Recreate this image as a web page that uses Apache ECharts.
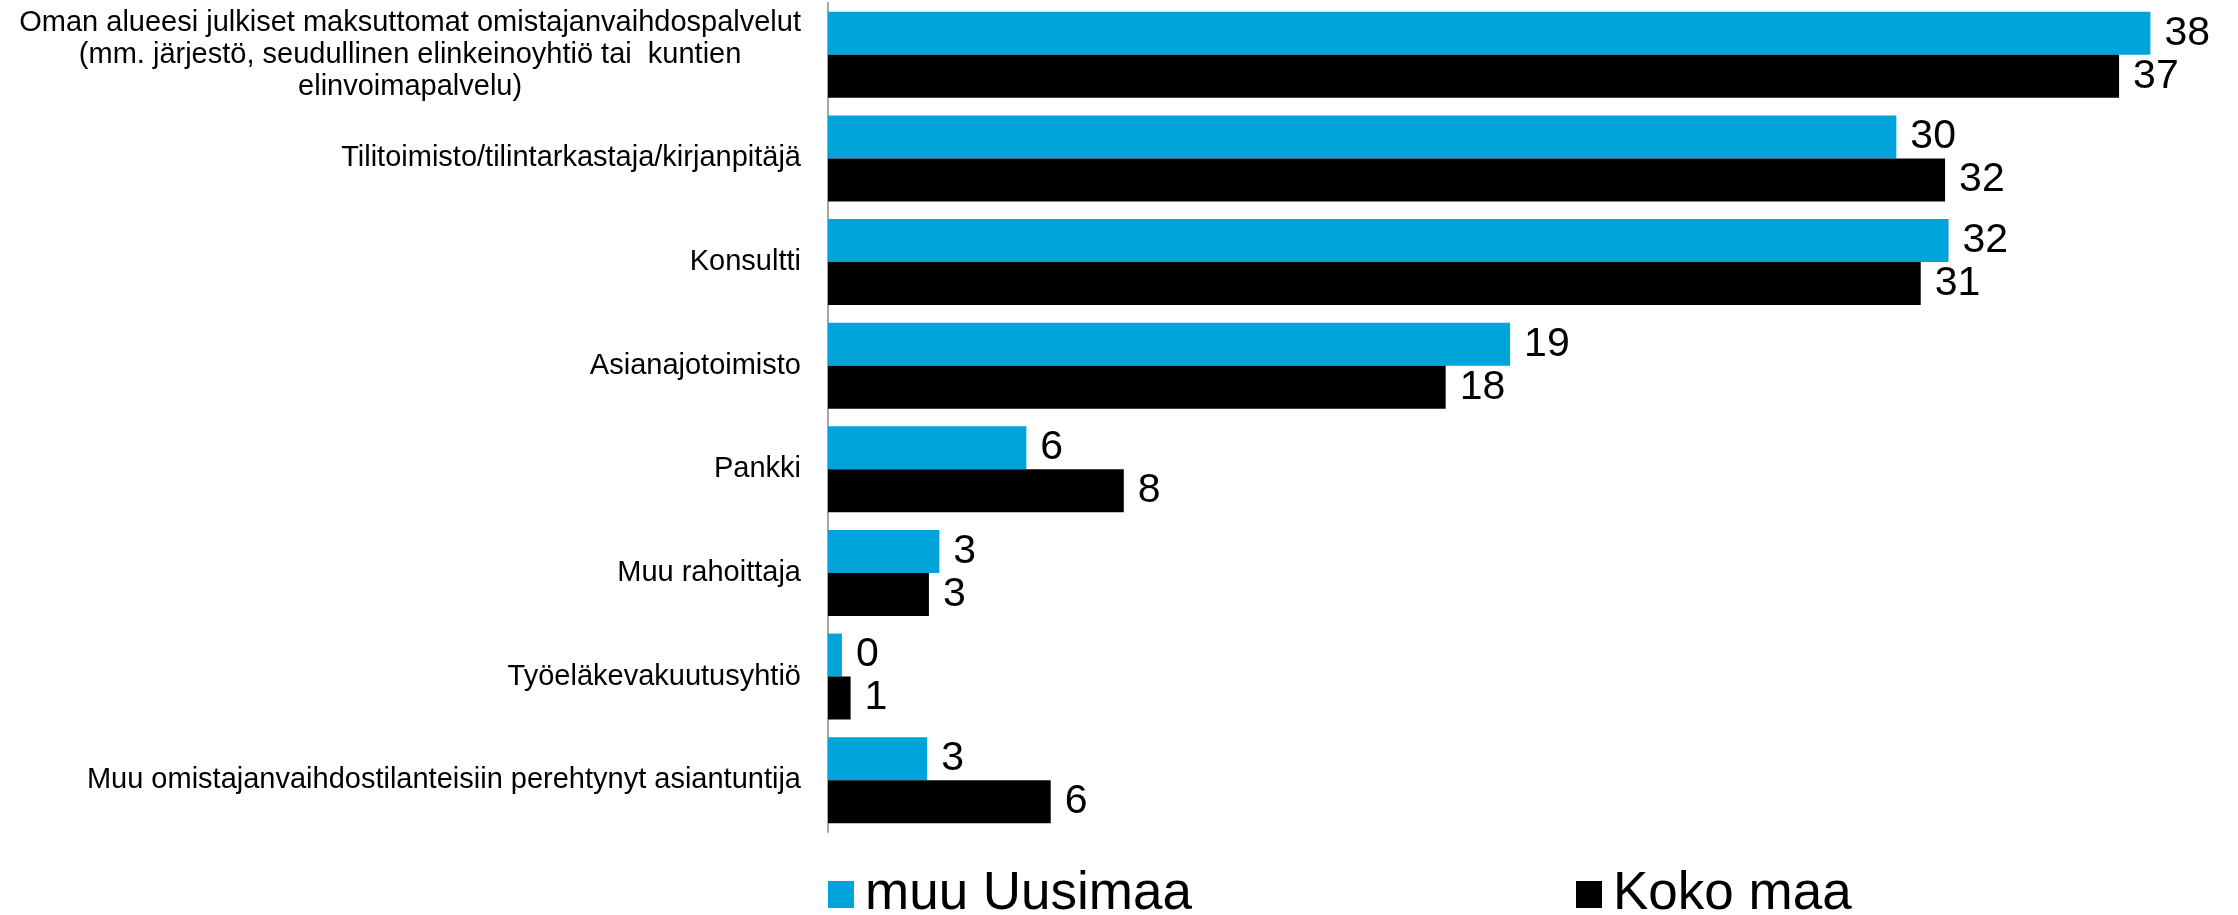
<!DOCTYPE html>
<html>
<head>
<meta charset="utf-8">
<script src="https://cdn.jsdelivr.net/npm/echarts@6/dist/echarts.min.js"></script>
<style>
  html, body { margin: 0; padding: 0; background: #fff; }
  #chart { width: 2238px; height: 915px; }
</style>
</head>
<body>
<div id="chart"></div>
<script>
// kategoriat ylhäältä alas
var categories = [
  'Oman alueesi julkiset maksuttomat omistajanvaihdospalvelut\n(mm. järjestö, seudullinen elinkeinoyhtiö tai  kuntien\nelinvoimapalvelu)',
  'Tilitoimisto/tilintarkastaja/kirjanpitäjä',
  'Konsultti',
  'Asianajotoimisto',
  'Pankki',
  'Muu rahoittaja',
  'Työeläkevakuutusyhtiö',
  'Muu omistajanvaihdostilanteisiin perehtynyt asiantuntija'
];
var seriesNames = ['muu Uusimaa', 'Koko maa'];
// palkkien pituudet luettu kuvasta
var uusimaaValues = [38.0, 30.7, 32.2, 19.6, 5.7, 3.2, 0.4, 2.85];
var kokoMaaValues = [37.1, 32.1, 31.4, 17.75, 8.5, 2.9, 0.65, 6.4];
// palkkien päässä näkyvät luvut
var uusimaaLabels = ['38', '30', '32', '19', '6', '3', '0', '3'];
var kokoMaaLabels = ['37', '32', '31', '18', '8', '3', '1', '6'];

var font = "'Liberation Sans', Arial, sans-serif";
var myChart = echarts.init(document.getElementById('chart'));

function valueLabel(labels) {
    return {
        show: true,
        position: 'right',
        distance: 14,
        color: '#000',
        fontSize: 41,
        fontFamily: font,
        formatter: function (p) { return labels[p.dataIndex]; }
    };
}

function legendItem(left, name) {
    return {
        left: left,
        top: 868,
        padding: 0,
        data: [name],
        icon: 'rect',
        itemWidth: 26,
        itemHeight: 27,
        selectedMode: false,
        textStyle: {
            color: '#000',
            fontSize: 53,
            lineHeight: 53,
            fontFamily: font,
            padding: [0, 0, 0, 6]
        }
    };
}

option = {
    animation: false,
    backgroundColor: '#fff',
    grid: { left: 828, top: 3, right: 18, bottom: 83, containLabel: false },
    legend: [legendItem(828, seriesNames[0]), legendItem(1576, seriesNames[1])],
    xAxis: {
        type: 'value',
        min: 0,
        max: 40,
        show: false
    },
    yAxis: {
        type: 'category',
        inverse: true,
        data: categories,
        axisLine: { show: true, lineStyle: { color: '#a6a6a6', width: 2 } },
        axisTick: { show: false },
        axisLabel: {
            margin: 27,
            color: '#000',
            fontSize: 29,
            fontFamily: font,
            lineHeight: 32,
            formatter: function (v) {
                return v.split('\n').map(function (s) { return '{c|' + s + '}'; }).join('\n');
            },
            rich: {
                c: {
                    align: 'center',
                    color: '#000',
                    fontSize: 29,
                    fontFamily: font,
                    lineHeight: 32
                }
            }
        }
    },
    series: [
        {
            name: seriesNames[0],
            type: 'bar',
            data: uusimaaValues,
            barWidth: 43,
            barGap: '0%',
            itemStyle: { color: '#00a3da' },
            label: valueLabel(uusimaaLabels)
        },
        {
            name: seriesNames[1],
            type: 'bar',
            data: kokoMaaValues,
            barWidth: 43,
            barGap: '0%',
            itemStyle: { color: '#000000' },
            label: valueLabel(kokoMaaLabels)
        }
    ]
};

myChart.setOption(option);
window.onresize = myChart.resize;
</script>
</body>
</html>
